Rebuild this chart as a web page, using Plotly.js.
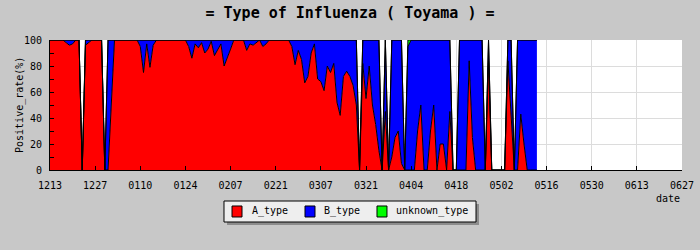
<!DOCTYPE html>
<html>
<head>
<meta charset="utf-8">
<script src="https://cdn.plot.ly/plotly-3.0.1.min.js"></script>
<style>
html,body{margin:0;padding:0;background:#c8c8c8;}
#chart{width:700px;height:250px;outline:1px solid #000;outline-offset:-1px;}
</style>
</head>
<body>
<div id="chart"></div>
<script>
// first date of the daily series
const startDate = "2022-12-13";
// A_type positive rate (%) per day
const aType = [
100,100,100,100,100,98,96,97,100,100,
0,96,98,100,100,100,100,0,0,50,
100,100,100,100,100,100,100,100,95,75,
97,79,96,100,100,100,100,100,100,100,
100,100,100,95,86,97,94,98,90,93,
99,88,92,97,80,86,93,100,100,100,
100,92,97,96,98,100,95,97,100,100,
100,100,100,100,100,95,81,92,85,67,
72,90,97,70,68,61,80,75,82,52,
42,72,76,72,65,50,0,82,55,80,
50,35,15,0,45,0,10,25,30,5,
0,0,0,0,30,50,0,0,30,50,
0,20,20,0,45,0,0,0,0,0,
84,25,0,0,0,0,84,0,0,0,
0,0,84,40,0,0,43,20,0,0,
0,0
];
// B_type positive rate (%) per day
const bType = [
0,0,0,0,0,2,4,3,0,0,
0,4,2,0,0,0,0,0,100,50,
0,0,0,0,0,0,0,0,5,25,
3,21,4,0,0,0,0,0,0,0,
0,0,0,5,14,3,6,2,10,7,
1,12,8,3,20,14,7,0,0,0,
0,8,3,4,2,0,5,3,0,0,
0,0,0,0,0,5,19,8,15,33,
28,10,3,30,32,39,20,25,18,48,
58,28,24,28,35,50,0,18,45,20,
50,65,85,0,55,0,90,75,70,95,
0,95,100,100,70,50,100,100,70,50,
100,80,80,100,55,0,0,100,100,100,
16,75,100,100,100,0,16,0,0,0,
0,0,16,60,0,100,57,80,100,100,
100,100
];
// unknown_type positive rate (%) per day
const unknownType = [
0,0,0,0,0,0,0,0,0,0,
0,0,0,0,0,0,0,0,0,0,
0,0,0,0,0,0,0,0,0,0,
0,0,0,0,0,0,0,0,0,0,
0,0,0,0,0,0,0,0,0,0,
0,0,0,0,0,0,0,0,0,0,
0,0,0,0,0,0,0,0,0,0,
0,0,0,0,0,0,0,0,0,0,
0,0,0,0,0,0,0,0,0,0,
0,0,0,0,0,0,0,0,0,0,
0,0,0,0,0,0,0,0,0,0,
0,5,0,0,0,0,0,0,0,0,
0,0,0,0,0,0,0,0,0,0,
0,0,0,0,0,0,0,0,0,0,
0,0,0,0,0,0,0,0,0,0,
0,0
];
const seriesNames = ["A_type","B_type","unknown_type"];
const seriesColors = ["#ff0000","#0000ff","#00ff00"];
const xRange = ["2022-12-13","2023-06-27"];
const chartTitle = "= Type of Influenza ( Toyama ) =";
const yTitle = "Positive_rate(%)";
const xTitle = "date";

function dayList(start, n){
  const out=[]; const t0=Date.parse(start+"T00:00:00Z");
  for(let i=0;i<n;i++){ out.push(new Date(t0+i*86400000).toISOString().slice(0,10)); }
  return out;
}
const dates = dayList(startDate, aType.length);
const font = "DejaVu Sans Mono";
const seriesValues = [aType,bType,unknownType];
const traces = seriesValues.map((v,i)=>({
  x: dates, y: v, type:"scatter", mode:"lines", stackgroup:"one",
  line:{color:"#000",width:1,shape:"linear"}, fillcolor:seriesColors[i],
  name:seriesNames[i], showlegend:false, hoverinfo:"skip"
}));

// legend drawn as a boxed row (paper coordinates)
const legBox = {x0:0.2753, x1:0.6741, y0:-0.2385, y1:-0.4000};
const legShadow = {x0:0.2801, x1:0.6788, y0:-0.2615, y1:-0.4231};
const swatchX = [0.2880, 0.4035, 0.5174];
const swatchW = 0.0158;
const swatchY = [-0.2769, -0.3615];
const labelX = [0.3165, 0.4304, 0.5443];
const labelY = -0.3192;

const shapes = [
  Object.assign({type:"rect", xref:"paper", yref:"paper", fillcolor:"#8c8c8c", line:{width:0}}, legShadow),
  Object.assign({type:"rect", xref:"paper", yref:"paper", fillcolor:"#eeeeee", line:{color:"#000",width:1}}, legBox)
];
const annotations = [
  {text:xTitle, xref:"paper", yref:"paper", x:1.0, y:-0.165, xanchor:"right", yanchor:"top", showarrow:false, font:{family:font,size:10}},
  {text:yTitle, xref:"paper", yref:"paper", x:-0.0475, y:0.5, xanchor:"center", yanchor:"middle", textangle:-90, showarrow:false, font:{family:font,size:10}}
];
seriesNames.forEach((n,i)=>{
  shapes.push({type:"rect", xref:"paper", yref:"paper", x0:swatchX[i], x1:swatchX[i]+swatchW, y0:swatchY[0], y1:swatchY[1],
    fillcolor:seriesColors[i], line:{color:"#000",width:1}});
  annotations.push({text:n, xref:"paper", yref:"paper", x:labelX[i], y:labelY, xanchor:"left", yanchor:"middle", showarrow:false, font:{family:font,size:10}});
});

const layout = {
  width:700, height:250,
  paper_bgcolor:"#c8c8c8", plot_bgcolor:"#ffffff",
  margin:{l:50,r:18,t:40,b:80},
  font:{family:font,size:10,color:"#000"},
  title:{text:chartTitle, font:{family:font,size:15,weight:"bold",color:"#000"}, x:0.5, xanchor:"center", y:0.95, yanchor:"middle"},
  xaxis:{type:"date", range:xRange, tick0:"2022-12-13", dtick:14*86400000, tickformat:"%m%d",
    ticks:"inside", ticklen:4, tickcolor:"#000", showline:true, linecolor:"#000", linewidth:1,
    showgrid:true, gridcolor:"#dcdcdc", zeroline:false, tickfont:{family:font,size:10}, ticklabelstandoff:6},
  yaxis:{range:[0,100], dtick:20, ticks:"inside", ticklen:4, tickcolor:"#000",
    minor:{dtick:10, ticks:"inside", ticklen:4, tickcolor:"#000", showgrid:false},
    showline:true, linecolor:"#000", linewidth:1, showgrid:true, gridcolor:"#dcdcdc", zeroline:false,
    tickfont:{family:font,size:10}, ticklabelstandoff:5},
  showlegend:false,
  annotations:annotations,
  shapes:shapes
};
Plotly.newPlot("chart", traces, layout, {displayModeBar:false, staticPlot:true});
</script>
</body>
</html>
